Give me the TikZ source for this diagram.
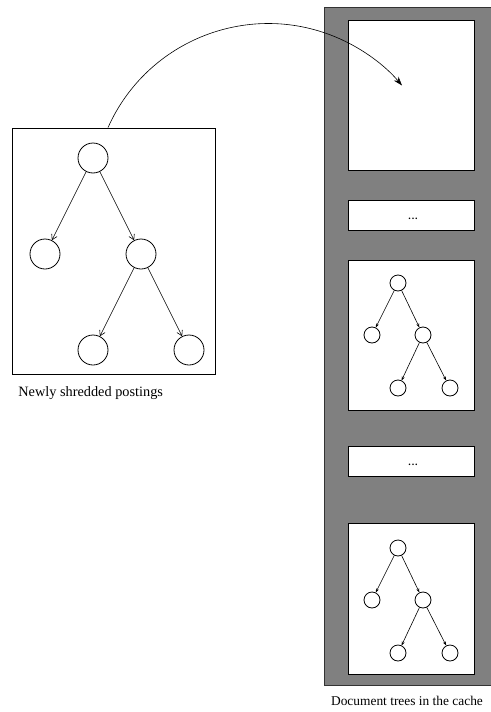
\documentclass[tikz,border=0pt]{standalone}
\usepackage{fontspec}
\setmainfont{Liberation Serif}
\usetikzlibrary{arrows.meta}
\begin{document}
\begin{tikzpicture}[x=1pt,y=-1pt,line width=0.8pt,
  frame/.style={draw,rectangle,inner sep=0pt,fill=white},
  bignode/.style={draw,circle,minimum size=30pt,inner sep=0pt},
  smallnode/.style={draw,circle,minimum size=16pt,inner sep=0pt},
  bigedge/.style={-{Straight Barb[length=5pt,width=6pt]},line width=0.6pt},
  smalledge/.style={-{Stealth[length=4pt,width=3pt]},line width=0.6pt},
  dotstext/.style={font=\fontsize{10}{10}\selectfont\bfseries,inner sep=0pt,anchor=base},
  caption/.style={font=\fontsize{13.4}{15}\selectfont,inner sep=0pt}]
\useasboundingbox (0,0) rectangle (490,712);

% cache column
\fill[fill=black!50,draw=black!80,line width=0.8pt] (324,7) rectangle (492,685);
\node[frame,minimum width=126pt,minimum height=150pt] (slot1) at (411,95) {};
\node[frame,minimum width=126pt,minimum height=30pt] (dots1) at (411,215) {};
\node[dotstext] (dots1text) at (413,219) {.\kern0.8pt.\kern0.8pt.};
\node[frame,minimum width=126pt,minimum height=150pt] (slot2) at (411,335) {};
\node[frame,minimum width=126pt,minimum height=30pt] (dots2) at (411,461) {};
\node[dotstext] (dots2text) at (413,465) {.\kern0.8pt.\kern0.8pt.};
\node[frame,minimum width=126pt,minimum height=151pt] (slot3) at (411,598.5) {};
\node[caption] (cachelabel) at (407,701) {Document trees in the cache};

% newly shredded tree
\node[frame,minimum width=203pt,minimum height=246pt] (newbox) at (113.5,251) {};
\node[caption,anchor=west,font=\fontsize{14.3}{16}\selectfont] (newlabel) at (18,393) {Newly shredded postings};
\node[bignode] (r) at (93,158) {};
\node[bignode] (a) at (45,254) {};
\node[bignode] (b) at (141,254) {};
\node[bignode] (c) at (93,350) {};
\node[bignode] (d) at (189,350) {};
\draw[bigedge] (r) -- (a);
\draw[bigedge] (r) -- (b);
\draw[bigedge] (b) -- (c);
\draw[bigedge] (b) -- (d);

% cached trees
\foreach \t/\y in {p/283,q/548}{
  \node[smallnode] (\t r) at (398,\y) {};
  \node[smallnode] (\t a) at (372,\y+52) {};
  \node[smallnode] (\t b) at (423,\y+52) {};
  \node[smallnode] (\t c) at (398,\y+105) {};
  \node[smallnode] (\t d) at (450,\y+105) {};
  \draw[smalledge] (\t r) -- (\t a);
  \draw[smalledge] (\t r) -- (\t b);
  \draw[smalledge] (\t b) -- (\t c);
  \draw[smalledge] (\t b) -- (\t d);
}

% insertion arrow: circular arc from the new tree's box into the first cache slot
\coordinate (from) at (newbox.north -| 108,0);
\draw[-{Stealth[length=9pt,width=6pt]},line width=0.6pt]
  (from) arc[start angle=-156, end angle=-40.3, radius=175.4] coordinate (to);
\end{tikzpicture}
\end{document}
